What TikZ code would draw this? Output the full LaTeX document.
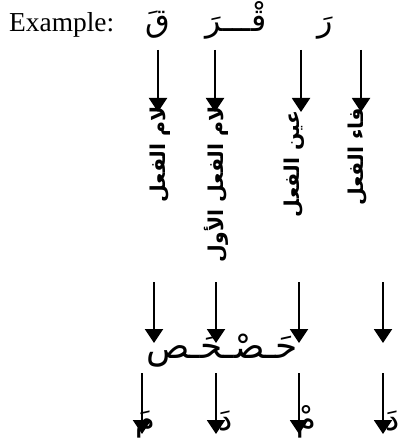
\documentclass[tikz,border=0pt]{standalone}
\usepackage{fontspec}
\setmainfont{Liberation Serif}
\newfontfamily\arabicfont[Script=Arabic]{DejaVu Sans}
\TeXXeTstate=1
\usetikzlibrary{arrows.meta}
\tikzset{
  arr/.style={line width=2bp, -{Triangle[width=18bp,length=14bp]}},
  vlab/.style={rotate=90, anchor=east, inner sep=0pt, font=\arabicfont\bfseries\fontsize{20.5}{20.5}\selectfont},
  ar/.style={inner sep=0pt, font=\arabicfont\fontsize{36}{36}\selectfont},
  art/.style={inner sep=0pt, font=\arabicfont\fontsize{32}{32}\selectfont},
  arb/.style={inner sep=0pt, font=\arabicfont\fontsize{32}{32}\selectfont},
}
\begin{document}
\begin{tikzpicture}[x=1bp,y=-1bp]
\useasboundingbox (0,0) rectangle (403,443);
% top row
\node[anchor=base west, inner sep=0pt, font=\fontsize{27.5}{27.5}\selectfont] (ex) at (9,32) {Example:};
\node[art, anchor=base] (t1) at (158,32) {\beginR قَ\endR};
\node[art, anchor=base] (t2) at (236,32) {\beginR قْـــرَ\endR};
\node[art, anchor=base] (t3) at (325,32) {\beginR رَ\endR};
% row 1 arrows
\coordinate (a1s) at (158,50); \coordinate (a1e) at (158,112);
\coordinate (a2s) at (215,50); \coordinate (a2e) at (215,112);
\coordinate (a3s) at (301,50); \coordinate (a3e) at (301,112);
\coordinate (a4s) at (361,50); \coordinate (a4e) at (361,112);
% labels
\node[vlab] (l1) at (160,106) {\beginR لام الفعل\endR};
\node[vlab] (l2) at (216,106) {\beginR لام الفعل الأول\endR};
\node[vlab] (l3) at (294,110) {\beginR عين الفعل\endR};
\node[vlab] (l4) at (358,108) {\beginR فاء الفعل\endR};
\draw[arr] (a1s) -- (a1e);
\draw[arr] (a2s) -- (a2e);
\draw[arr] (a3s) -- (a3e);
\draw[arr] (a4s) -- (a4e);
% middle word
\node[ar, anchor=base] (mid) at (222,358) {\beginR حَـصْـحَـص\endR};
% row 2 arrows
\coordinate (b1s) at (154,282); \coordinate (b1e) at (154,343);
\coordinate (b2s) at (216,282); \coordinate (b2e) at (216,343);
\coordinate (b3s) at (299,282); \coordinate (b3e) at (299,343);
\coordinate (b4s) at (383,282); \coordinate (b4e) at (383,343);
\draw[arr] (b1s) -- (b1e);
\draw[arr] (b2s) -- (b2e);
\draw[arr] (b3s) -- (b3e);
\draw[arr] (b4s) -- (b4e);
% bottom letters
\node[arb, anchor=base] (d1) at (145,430) {\beginR مَ\endR};
\node[arb, anchor=base] (d2) at (226,430) {\beginR دَ\endR};
\node[arb, anchor=base] (d3) at (306,430) {\beginR مْ\endR};
\node[arb, anchor=base] (d4) at (393,430) {\beginR دَ\endR};
% row 3 arrows
\coordinate (c1s) at (142,373); \coordinate (c1e) at (142,434);
\coordinate (c2s) at (216,373); \coordinate (c2e) at (216,434);
\coordinate (c3s) at (299,373); \coordinate (c3e) at (299,434);
\coordinate (c4s) at (383,373); \coordinate (c4e) at (383,434);
\draw[arr] (c1s) -- (c1e);
\draw[arr] (c2s) -- (c2e);
\draw[arr] (c3s) -- (c3e);
\draw[arr] (c4s) -- (c4e);
\end{tikzpicture}
\end{document}
